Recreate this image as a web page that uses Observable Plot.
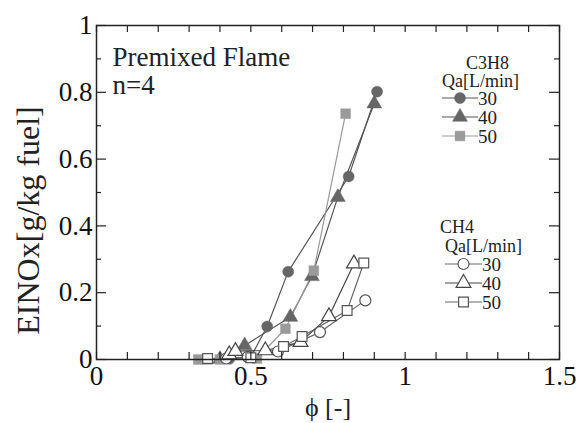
<!DOCTYPE html>
<html><head><meta charset="utf-8">
<script src="https://cdn.jsdelivr.net/npm/d3@7"></script>
<script src="https://cdn.jsdelivr.net/npm/@observablehq/plot@0.6"></script>
<style>
body{margin:0;background:#fff;overflow:hidden}
#chart svg{overflow:visible}
</style>
</head><body><div id="chart"></div>
<script>
// ---- tick values / labels ----
const xTicks = [0, 0.5, 1, 1.5];
const xTickLabels = ["0", "0.5", "1", "1.5"];
const xMinorTicks = [0,0.1,0.2,0.3,0.4,0.5,0.6,0.7,0.8,0.9,1.0,1.1,1.2,1.3,1.4,1.5];
const yTicks = [0, 0.2, 0.4, 0.6, 0.8, 1];
const yTickLabels = ["0", "0.2", "0.4", "0.6", "0.8", "1"];
const yMinorTicks = [0.1, 0.3, 0.5, 0.7, 0.9];

// ---- series (phi, EINOx) ----
const c3h8_30_phi = [0.43, 0.50, 0.553, 0.621, 0.817, 0.909];
const c3h8_30_ei  = [0.002, 0.008, 0.099, 0.263, 0.548, 0.802];
const c3h8_40_phi = [0.40, 0.48, 0.628, 0.698, 0.782, 0.900];
const c3h8_40_ei  = [0.001, 0.042, 0.127, 0.249, 0.486, 0.766];
const c3h8_50_phi = [0.33, 0.36, 0.40, 0.52, 0.612, 0.704, 0.807];
const c3h8_50_ei  = [0.0, 0.0, 0.0, 0.003, 0.092, 0.266, 0.736];
const ch4_30_phi = [0.42, 0.49, 0.588, 0.724, 0.871];
const ch4_30_ei  = [0.003, 0.008, 0.024, 0.082, 0.177];
const ch4_40_phi = [0.43, 0.45, 0.547, 0.661, 0.753, 0.834];
const ch4_40_ei  = [0.015, 0.025, 0.027, 0.052, 0.129, 0.287];
const ch4_50_phi = [0.36, 0.50, 0.606, 0.666, 0.812, 0.866];
const ch4_50_ei  = [0.003, 0.005, 0.039, 0.069, 0.147, 0.289];

const annotText = "Premixed Flame\nn=4";
const xLabel = "\u03d5 [-]";
const yLabel = "EINOx[g/kg fuel]";
const legendTitles = [["C3H8", "Qa[L/min]"], ["CH4", "Qa[L/min]"]];
const qaLabels = ["30", "40", "50"];

const FONT = "Liberation Serif";

// ---- styles ----
const series = [
  {key:"c3h8_30", phi:c3h8_30_phi, ei:c3h8_30_ei, symbol:"circle",   fill:"#666", stroke:"#666", line:"#555"},
  {key:"c3h8_40", phi:c3h8_40_phi, ei:c3h8_40_ei, symbol:"triangle", fill:"#666", stroke:"#666", line:"#555"},
  {key:"c3h8_50", phi:c3h8_50_phi, ei:c3h8_50_ei, symbol:"square",   fill:"#9a9a9a", stroke:"#9a9a9a", line:"#999"},
  {key:"ch4_30", phi:ch4_30_phi, ei:ch4_30_ei, symbol:"circle",   fill:"#fff", stroke:"#555", line:"#666"},
  {key:"ch4_40", phi:ch4_40_phi, ei:ch4_40_ei, symbol:"triangle", fill:"#fff", stroke:"#444", line:"#444"},
  {key:"ch4_50", phi:ch4_50_phi, ei:ch4_50_ei, symbol:"square",   fill:"#fff", stroke:"#555", line:"#666"}
];
const rowsOf = s => s.phi.map((p, i) => ({phi: p, ei: s.ei[i], key: s.key}));

const W = 576, H = 423;
const mL = 96, mR = 17, mT = 25, mB = 64;
const xPx = (W - mL - mR) / 1.5, yPx = (H - mT - mB) / 1;
const tickLen = px => px / yPx, tickLenX = px => px / xPx;

const marks = [];
for (const s of series) marks.push(Plot.line(rowsOf(s), {x:"phi", y:"ei", stroke:s.line, strokeWidth:1.2}));
for (const s of series) marks.push(Plot.dot(rowsOf(s), {x:"phi", y:"ei", symbol:s.symbol, r:5.5, fill:s.fill, stroke:s.stroke, strokeWidth: s.fill === "#fff" ? 1.2 : 0.5}));
marks.push(Plot.ruleX(xMinorTicks, {x: d => d, y1: 0, y2: tickLen(7), stroke:"#222", strokeWidth:1.2}));
marks.push(Plot.ruleX(xMinorTicks, {x: d => d, y1: 1, y2: 1 - tickLen(7), stroke:"#222", strokeWidth:1.2}));
marks.push(Plot.ruleY(yTicks, {y: d => d, x1: 0, x2: tickLenX(10), stroke:"#222", strokeWidth:1.2}));
marks.push(Plot.ruleY(yMinorTicks, {y: d => d, x1: 0, x2: tickLenX(5), stroke:"#222", strokeWidth:1.2}));
marks.push(Plot.ruleY(yTicks, {y: d => d, x1: 1.5, x2: 1.5 - tickLenX(10), stroke:"#222", strokeWidth:1.2}));
marks.push(Plot.ruleY(yMinorTicks, {y: d => d, x1: 1.5, x2: 1.5 - tickLenX(5), stroke:"#222", strokeWidth:1.2}));
marks.push(Plot.axisX(xTicks, {anchor:"bottom", tickSize:0, tickPadding:6, fontSize:27, fontFamily:FONT, tickFormat: d => xTickLabels[xTicks.indexOf(d)], label:null, fill:"#111"}));
marks.push(Plot.axisY(yTicks, {anchor:"left", tickSize:0, tickPadding:4, fontSize:27, fontFamily:FONT, tickFormat: d => yTickLabels[yTicks.indexOf(d)], label:null, fill:"#111"}));
marks.push(Plot.frame({stroke:"#222", strokeWidth:1.5}));
marks.push(Plot.text([annotText], {frameAnchor:"top-left", dx:16, dy:20, textAnchor:"start", lineAnchor:"top", lineHeight:1.05, fontSize:27, fontFamily:FONT, fill:"#222"}));
marks.push(Plot.text([yLabel], {frameAnchor:"left", dx:-68, dy:28, rotate:-90, textAnchor:"middle", lineAnchor:"middle", fontSize:32, fontFamily:FONT, fill:"#222"}));
marks.push(Plot.text([xLabel], {frameAnchor:"bottom", dy:48, textAnchor:"middle", lineAnchor:"middle", fontSize:26, fontFamily:FONT, fill:"#222"}));

const chart = Plot.plot({
  width: W, height: H,
  marginLeft: mL, marginRight: mR, marginTop: mT, marginBottom: mB,
  x: {domain:[0, 1.5], axis:null},
  y: {domain:[0, 1], axis:null},
  marks
});
document.getElementById("chart").append(chart);

// ---- legends ----
const svg = d3.select(chart);
const legendLayout = [
  {titleX: 466, titleY: 63, subX: 442, subY: 81, lineX1: 442, lineX2: 478, rowY: [98, 117, 136], group: series.slice(0, 3)},
  {titleX: 440, titleY: 227, subX: 445, subY: 246, lineX1: 445, lineX2: 482, rowY: [264, 283, 302], group: series.slice(3, 6)}
];
legendLayout.forEach((L, gi) => {
  const g = svg.append("g").attr("fill", "#222").attr("text-anchor", "start").attr("font-family", FONT);
  g.append("text").attr("x", L.titleX).attr("y", L.titleY).attr("dy", "0.35em").attr("font-size", 18).text(legendTitles[gi][0]);
  g.append("text").attr("x", L.subX).attr("y", L.subY).attr("dy", "0.35em").attr("font-size", 18).text(legendTitles[gi][1]);
  L.group.forEach((s, i) => {
    const y = L.rowY[i];
    g.append("line").attr("x1", L.lineX1).attr("x2", L.lineX2).attr("y1", y).attr("y2", y).attr("stroke", s.line).attr("stroke-width", 1.2);
    const sym = {circle: d3.symbolCircle, triangle: d3.symbolTriangle, square: d3.symbolSquare}[s.symbol];
    g.append("path").attr("d", d3.symbol(sym, Math.PI * 5.5 * 5.5)()).attr("transform", `translate(${(L.lineX1 + L.lineX2) / 2},${y})`)
      .attr("fill", s.fill).attr("stroke", s.stroke).attr("stroke-width", s.fill === "#fff" ? 1.2 : 0.5);
    g.append("text").attr("x", L.lineX2).attr("y", y).attr("dy", "0.35em").attr("font-size", 19).text(qaLabels[i]);
  });
});
</script>
</body></html>
